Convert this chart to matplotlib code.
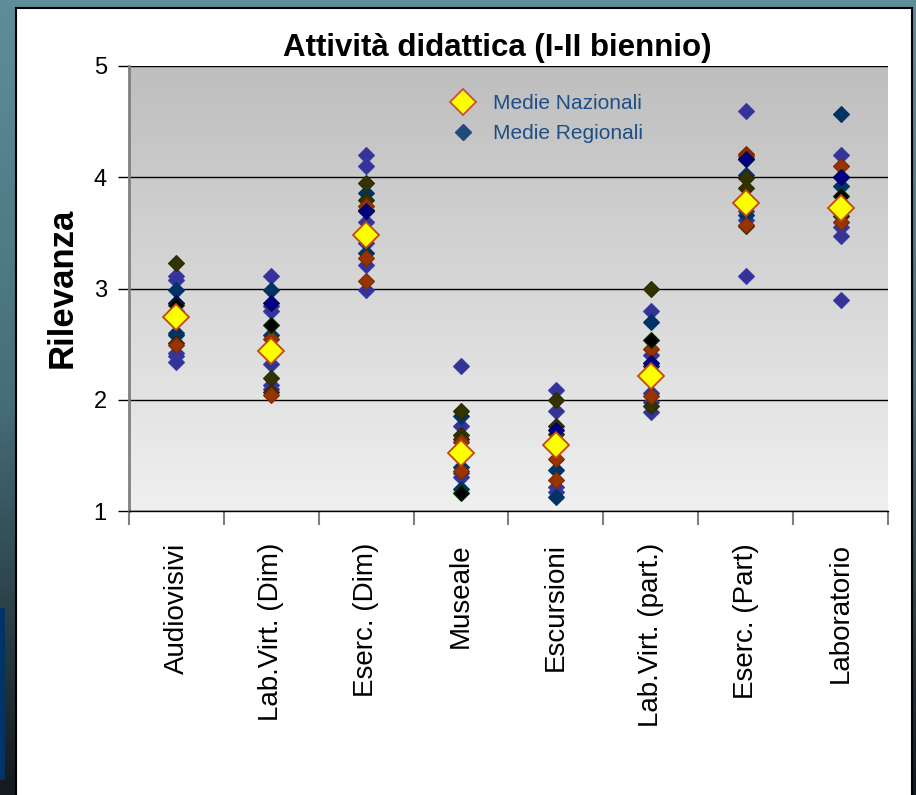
import numpy as np
import matplotlib
matplotlib.use("Agg")
import matplotlib.pyplot as plt
from matplotlib.lines import Line2D
from matplotlib.patches import Rectangle
from matplotlib.colors import LinearSegmentedColormap

plt.rcParams['font.family'] = ['Liberation Sans', 'DejaVu Sans']

categories = ["Audiovisivi", "Lab.Virt. (Dim)", "Eserc. (Dim)", "Museale",
              "Escursioni", "Lab.Virt. (part.)", "Eserc. (Part)", "Laboratorio"]

medie_nazionali = [2.74, 2.44, 3.48, 1.52, 1.59, 2.21, 3.77, 3.72]

# Regional means, grouped by marker colour (one list per category)
reg_violet = [
    [3.11, 3.08, 2.80, 2.42, 2.39, 2.34],
    [3.11, 2.84, 2.80, 2.32, 2.13, 2.10],
    [4.20, 4.10, 3.60, 3.41, 3.21, 2.99],
    [2.30, 1.76, 1.34, 1.31],
    [2.09, 1.90, 1.22, 1.17],
    [2.80, 2.40, 2.06, 1.98, 1.89],
    [4.60, 3.70, 3.62, 3.11],
    [4.20, 3.55, 3.47, 2.90],
]
reg_teal = [
    [2.99, 2.60, 2.58],
    [2.99, 2.58],
    [3.86, 3.32],
    [1.85, 1.40, 1.20],
    [1.37, 1.13],
    [2.70, 2.30],
    [4.02, 3.66],
    [4.57, 3.92],
]
reg_olive = [
    [3.23, 2.51],
    [2.20, 2.07],
    [3.95, 3.80, 3.71],
    [1.90, 1.68, 1.65],
    [2.00, 1.76, 1.69],
    [3.00, 1.94],
    [4.16, 3.99, 3.90, 3.56],
    [4.00, 3.65],
]
reg_rust = [
    [2.49],
    [2.55, 2.04],
    [3.74, 3.27, 3.07],
    [1.62, 1.36],
    [1.47, 1.28],
    [2.46, 2.03],
    [4.21, 4.19, 3.57],
    [4.10, 3.60],
]
reg_navy = [
    [2.87],
    [2.87],
    [3.70],
    [],
    [1.73],
    [2.33],
    [4.16],
    [4.00],
]
reg_black = [
    [2.85],
    [2.67],
    [],
    [1.16],
    [],
    [2.54],
    [],
    [3.83],
]

W, H, DPI = 916, 795, 100
fig = plt.figure(figsize=(W / DPI, H / DPI), dpi=DPI)

# slide backdrop
bg = fig.add_axes([0, 0, 1, 1], zorder=-10)
bg.set_axis_off()
slide_cmap = LinearSegmentedColormap.from_list("slide", ["#5E8E9A", "#466E7A", "#141A1D"])
bg.imshow(np.linspace(0, 1, 256)[:, None], aspect='auto', cmap=slide_cmap,
          extent=[0, 1, 0, 1], transform=bg.transAxes)
bg.add_patch(Rectangle((0, 1 - 780 / H), 5 / W, 172 / H, transform=bg.transAxes,
                       facecolor="#003366", edgecolor="none"))
bg.add_patch(Rectangle((16 / W, -0.01), (912 - 16) / W, 1.01 - 8 / H,
                       transform=bg.transAxes, facecolor="white",
                       edgecolor="black", linewidth=1.5))
bg.set_xlim(0, 1)
bg.set_ylim(0, 1)

# plot area
left, right, top, bottom = 129, 888, 66, 511
ax = fig.add_axes([left / W, 1 - bottom / H, (right - left) / W, (bottom - top) / H])

grad_cmap = LinearSegmentedColormap.from_list("plotbg", ["#BEBEBE", "#F0F0F0"])
ax.imshow(np.linspace(0, 1, 256)[:, None], aspect='auto', cmap=grad_cmap,
          extent=[0.5, 8.5, 1, 5], origin='upper', zorder=0)

ax.set_xlim(0.5, 8.5)
ax.set_ylim(1, 5)

ax.set_yticks([1, 2, 3, 4, 5])
ax.yaxis.grid(True, color='black', linewidth=1.0, zorder=1)
ax.set_axisbelow(True)

groups = [
    (reg_violet, "#333399", "#3A3AA0"),
    (reg_teal, "#003366", "#003366"),
    (reg_olive, "#333300", "#2A2A00"),
    (reg_rust, "#993300", "#7A2A00"),
    (reg_navy, "#000080", "#000066"),
    (reg_black, "#000000", "#003300"),
]
for values, face, edge in groups:
    xs = np.concatenate([np.full(len(v), i + 1) for i, v in enumerate(values)])
    ys = np.concatenate([np.asarray(v, dtype=float) for v in values])
    ax.plot(xs, ys, linestyle='none', marker='D', markersize=8.5,
            markerfacecolor=face, markeredgecolor=edge, markeredgewidth=0.8, zorder=3)

ax.plot(np.arange(1, len(categories) + 1), medie_nazionali, linestyle='none',
        marker='D', markersize=13, markerfacecolor='#FFFF00',
        markeredgecolor='#C04A10', markeredgewidth=1.3, zorder=5)

# boundary ticks (major) and category labels (minor)
ax.set_xticks(np.arange(0.5, len(categories) + 1, 1.0))
ax.set_xticklabels([])
ax.set_xticks(np.arange(1, len(categories) + 1), minor=True)
ax.set_xticklabels(categories, minor=True, rotation=90, fontsize=20, va='top', ha='center')
ax.tick_params(axis='x', which='major', length=10, width=1.5, color='#808080', direction='out')
ax.tick_params(axis='x', which='minor', length=0, pad=23)
ax.tick_params(axis='y', which='major', length=8, width=1, color='black', direction='out',
               labelsize=17, pad=8)

for side in ('top', 'right'):
    ax.spines[side].set_visible(False)
ax.spines['left'].set_color('#808080')
ax.spines['left'].set_linewidth(2)
ax.spines['bottom'].set_color('black')
ax.spines['bottom'].set_linewidth(1)

handles = [
    Line2D([], [], linestyle='none', marker='D', markersize=13, markerfacecolor='#FFFF00',
           markeredgecolor='#C8503A', markeredgewidth=1.3),
    Line2D([], [], linestyle='none', marker='D', markersize=8.5, markerfacecolor='#1F4A80',
           markeredgecolor='#1F4A80'),
]
ax.legend(handles, ["Medie Nazionali", "Medie Regionali"], loc='upper left',
          bbox_to_anchor=(453 / W, 1 - 94 / H), bbox_transform=fig.transFigure,
          frameon=False, fontsize=15, labelcolor='#1F4E85', handlelength=1.0,
          handletextpad=0.9, labelspacing=0.55, borderpad=0, borderaxespad=0)

fig.text(497 / W, 1 - 48 / H, "Attività didattica (I-II biennio)", ha='center', va='center',
         fontsize=22.5, fontweight='bold')
fig.text(62 / W, 1 - 288 / H, "Rilevanza", rotation=90, ha='center', va='center',
         fontsize=25, fontweight='bold')

fig.savefig("out.png", dpi=DPI)
